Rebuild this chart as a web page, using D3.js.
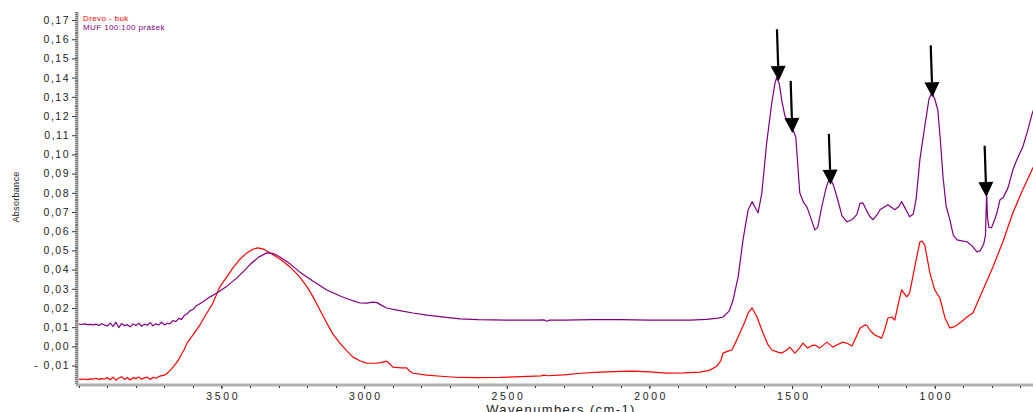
<!DOCTYPE html>
<html>
<head>
<meta charset="utf-8">
<script src="https://cdn.jsdelivr.net/npm/d3@7"></script>
<style>
  html, body { margin: 0; padding: 0; background: #fff; }
  svg { display: block; }
  text { font-family: "Liberation Sans", Arial, sans-serif; }
</style>
</head>
<body>
<div id="chart"></div>
<script>
// series: [wavenumber cm-1, absorbance]
var seriesNames = ['Drevo - buk', 'MUF 100:100 prášek'];
var seriesColors = ['#ff0000', '#800080'];

var bukPoints = [[4000,-0.0171],[3990,-0.0172],[3980,-0.0170],[3970,-0.0173],[3960,-0.0169],[3950,-0.0171],[3940,-0.0166],[3930,-0.0172],[3920,-0.0168],[3910,-0.0170],[3900,-0.0163],[3890,-0.0174],[3880,-0.0160],[3870,-0.0176],[3860,-0.0165],[3850,-0.0158],[3840,-0.0172],[3830,-0.0162],[3820,-0.0175],[3810,-0.0163],[3800,-0.0168],[3790,-0.0159],[3780,-0.0171],[3770,-0.0164],[3760,-0.0160],[3750,-0.0173],[3740,-0.0161],[3730,-0.0166],[3720,-0.0158],[3716,-0.0155],[3700,-0.0150],[3690,-0.0140],[3680,-0.0125],[3670,-0.0108],[3660,-0.0090],[3650,-0.0068],[3640,-0.0040],[3630,-0.0015],[3621,0.0017],[3600,0.0060],[3576,0.0111],[3555,0.0165],[3530,0.0226],[3506,0.031],[3480,0.0365],[3460,0.0409],[3435,0.0455],[3411,0.0487],[3390,0.0506],[3372,0.0513],[3350,0.0505],[3319,0.0477],[3290,0.0450],[3260,0.0414],[3226,0.0362],[3200,0.0310],[3179,0.0258],[3155,0.0190],[3131,0.0122],[3110,0.0065],[3085,0.0017],[3060,-0.0025],[3039,-0.0056],[3015,-0.0075],[2992,-0.0087],[2960,-0.0088],[2940,-0.0085],[2921,-0.0077],[2910,-0.0092],[2899,-0.0108],[2870,-0.0112],[2851,-0.0112],[2840,-0.0130],[2829,-0.0140],[2780,-0.0150],[2720,-0.0157],[2664,-0.0162],[2600,-0.0163],[2524,-0.0162],[2450,-0.0158],[2380,-0.0154],[2370,-0.0150],[2355,-0.0153],[2300,-0.0148],[2240,-0.0140],[2174,-0.0134],[2100,-0.0130],[2058,-0.0129],[2000,-0.0133],[1940,-0.0139],[1880,-0.0138],[1823,-0.0134],[1790,-0.0125],[1765,-0.0105],[1750,-0.0075],[1742,-0.0035],[1725,-0.0025],[1711,-0.0019],[1695,0.003],[1683,0.007],[1665,0.013],[1654,0.0174],[1640,0.020],[1623,0.0153],[1602,0.007],[1585,0.001],[1571,-0.0019],[1550,-0.003],[1536,-0.0035],[1520,-0.002],[1508,-0.0004],[1490,-0.0035],[1475,-0.001],[1462,0.0017],[1445,-0.0009],[1430,0.0005],[1420,0.0007],[1403,-0.0009],[1378,0.0022],[1357,-0.0004],[1340,0.001],[1322,0.0022],[1305,0.0015],[1290,0.0002],[1275,0.005],[1262,0.0095],[1245,0.0112],[1238,0.011],[1225,0.008],[1210,0.0059],[1186,0.0043],[1175,0.009],[1164,0.0148],[1150,0.0153],[1140,0.0137],[1128,0.022],[1116,0.0294],[1098,0.0258],[1088,0.0278],[1070,0.0414],[1052,0.0545],[1045,0.0548],[1035,0.0529],[1017,0.0383],[1000,0.0294],[982,0.0252],[964,0.0148],[947,0.0096],[935,0.010],[922,0.0111],[905,0.013],[887,0.0153],[866,0.0174],[850,0.023],[831,0.0294],[796,0.0414],[761,0.0545],[726,0.0696],[691,0.0817],[659,0.092],[652,0.094]];

var mufPoints = [[4000,0.0116],[3990,0.0114],[3980,0.0117],[3970,0.0113],[3960,0.0115],[3950,0.0112],[3940,0.0116],[3930,0.0109],[3920,0.0118],[3910,0.0111],[3900,0.0106],[3890,0.0121],[3880,0.0104],[3870,0.0126],[3860,0.0098],[3850,0.0119],[3840,0.0108],[3830,0.0113],[3820,0.0102],[3810,0.0117],[3800,0.0109],[3790,0.0121],[3780,0.0105],[3770,0.0116],[3760,0.0110],[3750,0.0124],[3740,0.0107],[3730,0.0118],[3720,0.0111],[3710,0.0126],[3700,0.0112],[3690,0.0120],[3680,0.0118],[3670,0.0135],[3660,0.0129],[3650,0.0146],[3640,0.0141],[3630,0.0162],[3620,0.0170],[3610,0.0186],[3600,0.0192],[3590,0.0210],[3580,0.0218],[3565,0.0232],[3540,0.0258],[3516,0.0278],[3480,0.0315],[3446,0.0357],[3420,0.0395],[3401,0.0425],[3370,0.0465],[3341,0.0487],[3320,0.0485],[3295,0.0466],[3260,0.0430],[3226,0.0388],[3180,0.0340],[3131,0.0294],[3080,0.0260],[3040,0.0238],[3015,0.0226],[2990,0.0225],[2970,0.0231],[2955,0.0228],[2940,0.0215],[2921,0.0200],[2880,0.0188],[2829,0.0174],[2780,0.0163],[2720,0.0152],[2664,0.0143],[2600,0.0139],[2500,0.0137],[2400,0.0137],[2370,0.0138],[2360,0.0131],[2350,0.0137],[2300,0.0137],[2200,0.0139],[2100,0.0139],[2000,0.0137],[1900,0.0137],[1858,0.0137],[1800,0.0141],[1760,0.0147],[1742,0.0153],[1720,0.0185],[1707,0.024],[1689,0.0362],[1672,0.0555],[1654,0.0712],[1640,0.0754],[1628,0.0720],[1619,0.0696],[1606,0.080],[1589,0.106],[1571,0.127],[1560,0.137],[1554,0.140],[1545,0.137],[1536,0.128],[1525,0.120],[1515,0.117],[1500,0.114],[1487,0.109],[1473,0.080],[1460,0.075],[1448,0.0727],[1420,0.0607],[1410,0.062],[1396,0.0727],[1380,0.083],[1368,0.0879],[1355,0.084],[1340,0.0764],[1325,0.068],[1308,0.0649],[1290,0.066],[1273,0.0686],[1262,0.0745],[1252,0.0748],[1240,0.071],[1227,0.0675],[1216,0.066],[1200,0.069],[1192,0.0712],[1164,0.0738],[1140,0.0712],[1125,0.073],[1116,0.0754],[1100,0.071],[1088,0.0675],[1075,0.069],[1065,0.077],[1052,0.0973],[1035,0.1145],[1020,0.129],[1010,0.132],[1000,0.129],[989,0.123],[980,0.107],[971,0.0884],[960,0.073],[947,0.066],[935,0.058],[922,0.0555],[905,0.055],[887,0.0545],[870,0.0525],[852,0.0492],[840,0.050],[828,0.0535],[822,0.058],[818,0.080],[815,0.067],[810,0.062],[801,0.0618],[790,0.066],[782,0.0696],[771,0.0764],[760,0.0775],[743,0.0827],[726,0.092],[710,0.098],[691,0.104],[675,0.112],[659,0.121],[652,0.124]];

// arrow annotations: [tail wn, tail abs, tip wn, tip abs]
var arrows = [[1553,0.1652,1547,0.1382],[1505,0.1383,1499,0.1112],[1371,0.1107,1365,0.0842],[1014,0.1568,1008,0.1298],[825,0.1045,819,0.0778]];

var yTickValues = [-0.01,0,0.01,0.02,0.03,0.04,0.05,0.06,0.07,0.08,0.09,0.10,0.11,0.12,0.13,0.14,0.15,0.16,0.17];
var xTickValues = [3500,3000,2500,2000,1500,1000];

(function () {
    var width = 1033, height = 412;
    var mLeft = 78, mRight = 1034, mTop = 12, mBottom = 384;

    var svg = d3.select('#chart').append('svg')
        .attr('width', width)
        .attr('height', height);

    var x = d3.scaleLinear().domain([4003, 652]).range([mLeft, mRight]);
    var y = d3.scaleLinear().domain([-0.0196, 0.1742]).range([mBottom, mTop]);

    svg.append('defs').append('clipPath').attr('id', 'plotclip')
        .append('rect').attr('x', mLeft).attr('y', mTop)
        .attr('width', mRight - mLeft).attr('height', mBottom - mTop);

    var fmt = function (v) {
        var s = d3.format('.2f')(Math.abs(v)).replace('.', ',');
        return (v < -1e-9 ? '- ' : '') + s;
    };

    // y axis
    var yMinor = d3.range(-19, 175).map(function (i) { return i / 1000; });
    svg.append('line')
        .attr('x1', mLeft - 1).attr('x2', mLeft - 1)
        .attr('y1', mTop).attr('y2', mBottom + 1)
        .attr('stroke', '#b0b0b0').attr('stroke-width', 3);
    svg.selectAll('.yminor').data(yMinor).enter().append('line')
        .attr('x1', mLeft - 3).attr('x2', mLeft)
        .attr('y1', function (d) { return Math.round(y(d)) + 0.5; })
        .attr('y2', function (d) { return Math.round(y(d)) + 0.5; })
        .attr('stroke', '#7a7a7a').attr('stroke-width', 1);
    var yAxis = svg.append('g')
        .attr('transform', 'translate(' + (mLeft - 2) + ',0)')
        .call(d3.axisLeft(y).tickValues(yTickValues).tickFormat(fmt).tickSize(4).tickPadding(2));
    yAxis.select('.domain').remove();
    yAxis.selectAll('.tick line').attr('stroke', '#333');
    yAxis.selectAll('.tick text')
        .attr('fill', '#222')
        .style('font-size', '10.5px')
        .style('letter-spacing', '1.5px');

    // x axis
    var xMinor = d3.range(700, 4001, 100);
    svg.append('line')
        .attr('x1', mLeft - 2).attr('x2', width)
        .attr('y1', mBottom + 1).attr('y2', mBottom + 1)
        .attr('stroke', '#b0b0b0').attr('stroke-width', 3);
    svg.selectAll('.xminor').data(xMinor).enter().append('line')
        .attr('x1', function (d) { return Math.round(x(d)) + 0.5; })
        .attr('x2', function (d) { return Math.round(x(d)) + 0.5; })
        .attr('y1', mBottom + 2).attr('y2', mBottom + 4)
        .attr('stroke', '#333').attr('stroke-width', 1);
    var xAxis = svg.append('g')
        .attr('transform', 'translate(0,' + (mBottom + 2) + ')')
        .call(d3.axisBottom(x).tickValues(xTickValues).tickFormat(d3.format('d')).tickSize(3).tickPadding(4));
    xAxis.select('.domain').remove();
    xAxis.selectAll('.tick line').attr('stroke', '#333');
    xAxis.selectAll('.tick text')
        .attr('fill', '#222')
        .attr('dx', '1.2px')
        .style('font-size', '10.5px')
        .style('letter-spacing', '2.6px');

    svg.append('text')
        .attr('x', 561).attr('y', 414)
        .attr('text-anchor', 'middle')
        .attr('fill', '#222')
        .style('font-size', '13px')
        .style('letter-spacing', '1.4px')
        .text('Wavenumbers (cm-1)');

    svg.append('text')
        .attr('transform', 'translate(19,197) rotate(-90)')
        .attr('text-anchor', 'middle')
        .attr('fill', '#222')
        .style('font-size', '9px')
        .style('letter-spacing', '0.3px')
        .text('Absorbance');

    // spectra
    var line = d3.line()
        .x(function (d) { return x(d[0]); })
        .y(function (d) { return y(d[1]); });

    var plot = svg.append('g').attr('clip-path', 'url(#plotclip)');
    [bukPoints, mufPoints].forEach(function (pts, i) {
        plot.append('path')
            .datum(pts)
            .attr('d', line)
            .attr('fill', 'none')
            .attr('stroke', seriesColors[i])
            .attr('stroke-width', 1.2)
            .attr('stroke-linejoin', 'round');
    });

    // arrows
    arrows.forEach(function (a) {
        var x0 = x(a[0]), y0 = y(a[1]), x1 = x(a[2]), y1 = y(a[3]);
        var ang = Math.atan2(y1 - y0, x1 - x0);
        var hl = 15, hw = 7.5;
        var bx = x1 - hl * Math.cos(ang), by = y1 - hl * Math.sin(ang);
        svg.append('line')
            .attr('x1', x0).attr('y1', y0).attr('x2', bx).attr('y2', by)
            .attr('stroke', '#000').attr('stroke-width', 2.2);
        var px = -Math.sin(ang) * hw, py = Math.cos(ang) * hw;
        svg.append('path')
            .attr('d', 'M' + x1 + ',' + y1 + 'L' + (bx + px) + ',' + (by + py) + 'L' + (bx - px) + ',' + (by - py) + 'Z')
            .attr('fill', '#000');
    });

    // legend
    seriesNames.forEach(function (n, i) {
        svg.append('text')
            .attr('x', 83).attr('y', 21 + i * 9)
            .attr('fill', seriesColors[i])
            .style('font-size', '8px')
            .style('letter-spacing', '0.4px')
            .text(n);
    });
})();
</script>
</body>
</html>
